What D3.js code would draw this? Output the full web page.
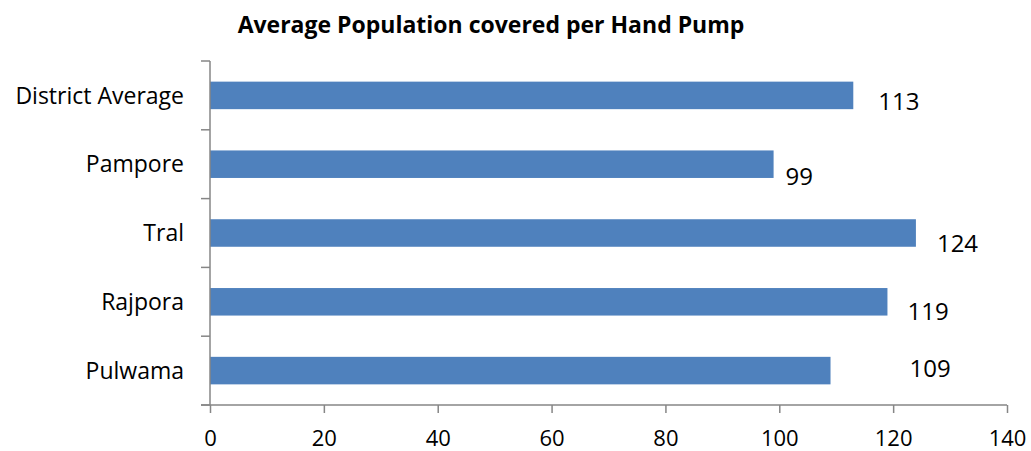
<!DOCTYPE html>
<html>
<head>
<meta charset="utf-8">
<script src="https://cdn.jsdelivr.net/npm/d3@7/dist/d3.min.js"></script>
<style>
  html, body { margin: 0; padding: 0; background: #fff; }
  svg { display: block; font-family: "Open Sans", sans-serif; }
</style>
</head>
<body>
<svg id="chart" width="1031" height="451"></svg>
<script>
// Blocks, listed top to bottom
const blocks = ["District Average", "Pampore", "Tral", "Rajpora", "Pulwama"];
const populationPerPump = [113, 99, 124, 119, 109];
const xTicks = [0, 20, 40, 60, 80, 100, 120, 140];
const chartTitle = "Average Population covered per Hand Pump";

// Hand-placed offsets of each value label from its bar end / bar centre (px)
const labelNudgeX = [25, 12, 21, 20, 79];
const labelNudgeY = [15, 21, 19, 18, 6];

const svg = d3.select("#chart");
const margin = { left: 210, right: 24, top: 61, bottom: 46 };
const W = 1031, H = 451;
const fontFamily = "'Open Sans', sans-serif";

const x = d3.scaleLinear().domain([0, 140]).range([margin.left, W - margin.right]);
const y = d3.scaleBand().domain(blocks).range([margin.top, H - margin.bottom])
  .paddingInner(0.6).paddingOuter(0.3);

const axisColor = "#868686";

// Title
svg.append("text")
  .attr("x", 491).attr("y", 33)
  .attr("text-anchor", "middle")
  .attr("font-weight", "bold")
  .attr("font-size", 23)
  .attr("fill", "#000")
  .text(chartTitle);

// Bars
svg.append("g").selectAll("rect")
  .data(blocks)
  .join("rect")
  .attr("x", x(0))
  .attr("y", d => y(d))
  .attr("width", (d, i) => x(populationPerPump[i]) - x(0))
  .attr("height", y.bandwidth())
  .attr("fill", "#4F81BD");

// Value labels
svg.append("g").selectAll("text")
  .data(blocks)
  .join("text")
  .attr("x", (d, i) => x(populationPerPump[i]) + labelNudgeX[i])
  .attr("y", (d, i) => y(d) + y.bandwidth() / 2 + labelNudgeY[i])
  .attr("font-size", 24)
  .attr("fill", "#000")
  .text((d, i) => populationPerPump[i]);

// Y axis: line with ticks at category boundaries
const yAxisG = svg.append("g");
yAxisG.append("line")
  .attr("x1", x(0)).attr("x2", x(0))
  .attr("y1", margin.top).attr("y2", H - margin.bottom)
  .attr("stroke", axisColor).attr("stroke-width", 1.5);
const bounds = blocks.map(d => y(d) - y.step() * y.paddingInner() / 2)
  .concat([H - margin.bottom]);
yAxisG.selectAll("line.tick").data(bounds).join("line")
  .attr("class", "tick")
  .attr("x1", x(0) - 9).attr("x2", x(0))
  .attr("y1", d => d).attr("y2", d => d)
  .attr("stroke", axisColor).attr("stroke-width", 1.5);
yAxisG.selectAll("text").data(blocks).join("text")
  .attr("x", 184)
  .attr("y", d => y(d) + y.bandwidth() / 2)
  .attr("dy", "0.36em")
  .attr("text-anchor", "end")
  .attr("font-size", 23)
  .attr("fill", "#000")
  .text(d => d);

// X axis
const xAxis = d3.axisBottom(x).tickValues(xTicks).tickSize(8).tickPadding(17).tickSizeOuter(0);
const xg = svg.append("g")
  .attr("transform", `translate(0,${H - margin.bottom})`)
  .call(xAxis);
xg.select(".domain")
  .attr("stroke", axisColor).attr("stroke-width", 1.5)
  .attr("d", `M${x(0) - 9},0H${x(140)}`);
xg.selectAll(".tick line").attr("stroke", axisColor).attr("stroke-width", 1.5);
xg.selectAll(".tick text")
  .attr("font-size", 22)
  .attr("font-family", fontFamily)
  .attr("fill", "#000");
</script>
</body>
</html>
